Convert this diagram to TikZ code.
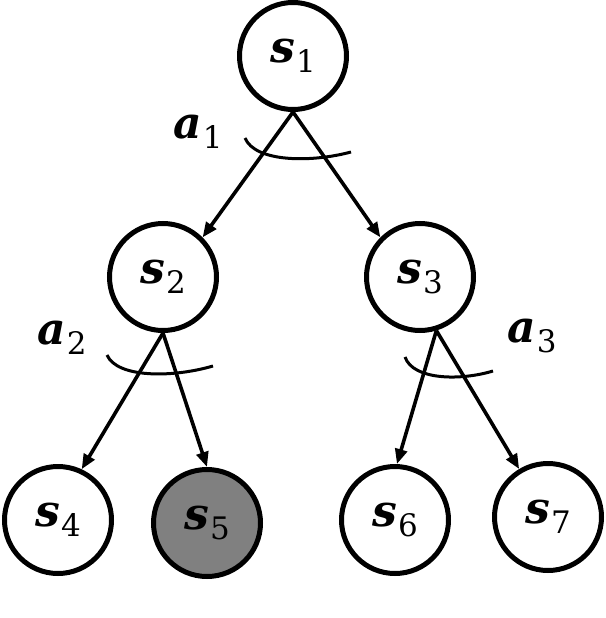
\documentclass[tikz,border=0pt]{standalone}
\usepackage{fontspec}
\setmainfont{DejaVu Serif}
\usetikzlibrary{arrows.meta}
\definecolor{nodegray}{RGB}{128,128,128}
\newcommand{\mylab}[2]{{\fontsize{44}{52}\selectfont\bfseries\itshape #1}\kern1pt\raisebox{-10pt}{\fontsize{31}{36}\selectfont #2}}
\begin{document}
\begin{tikzpicture}[x=1pt,y=-1pt,
  state/.style={circle,draw,line width=5pt,minimum size=107pt,inner sep=0pt,fill=white},
  goal/.style={state,fill=nodegray},
  edge/.style={line width=3.6pt,-{Triangle[length=15pt,width=12pt]}},
  arcline/.style={line width=3pt},
  actlab/.style={inner sep=0pt}]
\useasboundingbox (0,0) rectangle (605,618);
\node[state] (s1) at (293,56) {\mylab{s}{1}};
\node[state] (s2) at (163,277) {\mylab{s}{2}};
\node[state] (s3) at (420,277) {\mylab{s}{3}};
\node[state] (s4) at (58,520) {\mylab{s}{4}};
\node[goal]  (s5) at (207,523) {\mylab{s}{5}};
\node[state] (s6) at (395,520) {\mylab{s}{6}};
\node[state] (s7) at (548,517) {\mylab{s}{7}};
\draw[edge] (s1.south) -- (s2.45);
\draw[edge] (s1.south) -- (s3.135);
\draw[edge] (s2.south) -- (s4.65);
\draw[edge] (s2.south) -- (s5.north);
\draw[edge] (s3.-73) -- (s6.88);
\draw[edge] (s3.-73) -- (s7.121);
\coordinate (a1l) at (245,138);
\coordinate (a1r) at (351,152);
\coordinate (a2l) at (107,355);
\coordinate (a2r) at (213,366);
\coordinate (a3l) at (405,357);
\coordinate (a3r) at (493,371);
\draw[arcline] (a1l) .. controls (255,162) and (310,163) .. (a1r);
\draw[arcline] (a2l) .. controls (117,378) and (172,378) .. (a2r);
\draw[arcline] (a3l) .. controls (413,380) and (460,381) .. (a3r);
\node[actlab] (a1) at (198,132) {\mylab{a}{1}};
\node[actlab] (a2) at (62,338) {\mylab{a}{2}};
\node[actlab] (a3) at (532,336) {\mylab{a}{3}};
\end{tikzpicture}
\end{document}
